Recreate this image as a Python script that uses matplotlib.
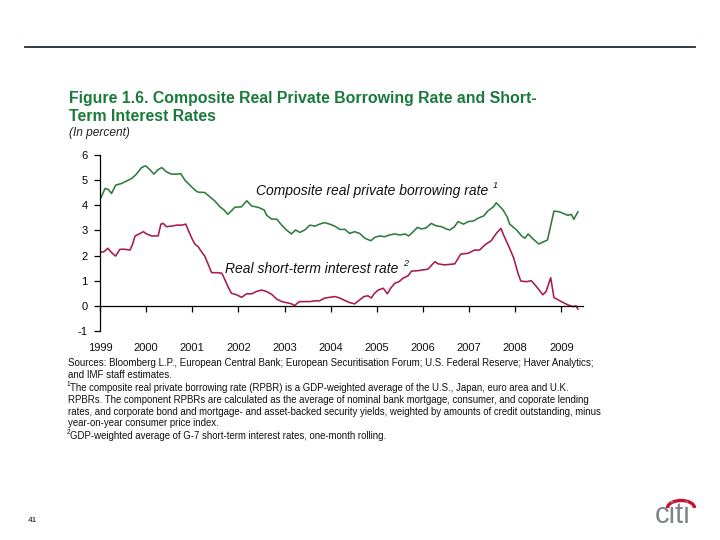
import matplotlib
matplotlib.use('Agg')
import matplotlib.pyplot as plt
from matplotlib.patches import Arc
from matplotlib.lines import Line2D

plt.rcParams['font.family'] = ['Liberation Sans', 'DejaVu Sans']

# ---------------- data ----------------
years_rpbr = [1999.02, 1999.11, 1999.18, 1999.25, 1999.34, 1999.47, 1999.58, 1999.69, 1999.79, 1999.90,
              1999.99, 2000.08, 2000.17, 2000.26, 2000.34, 2000.44, 2000.55, 2000.66, 2000.75, 2000.84,
              2000.95, 2001.06, 2001.13, 2001.27, 2001.38, 2001.49, 2001.60, 2001.69, 2001.77, 2001.85,
              2001.92, 2002.07, 2002.18, 2002.29, 2002.43, 2002.56, 2002.61, 2002.72, 2002.83, 2002.94,
              2003.04, 2003.15, 2003.24, 2003.33, 2003.44, 2003.55, 2003.66, 2003.76, 2003.87, 2003.98,
              2004.09, 2004.20, 2004.31, 2004.41, 2004.52, 2004.63, 2004.74, 2004.87, 2004.96, 2005.06,
              2005.17, 2005.28, 2005.39, 2005.50, 2005.61, 2005.69, 2005.79, 2005.88, 2005.97, 2006.07,
              2006.18, 2006.29, 2006.40, 2006.52, 2006.58, 2006.68, 2006.76, 2006.88, 2006.98, 2007.10,
              2007.19, 2007.32, 2007.41, 2007.53, 2007.59, 2007.74, 2007.83, 2007.88, 2008.03, 2008.14,
              2008.21, 2008.28, 2008.37, 2008.51, 2008.70, 2008.84, 2008.96, 2009.14, 2009.22, 2009.27,
              2009.36]
rpbr = [4.30, 4.67, 4.63, 4.47, 4.80, 4.87, 4.97, 5.07, 5.24, 5.50,
        5.57, 5.42, 5.24, 5.42, 5.50, 5.33, 5.24, 5.24, 5.26, 5.00,
        4.80, 4.60, 4.52, 4.51, 4.34, 4.17, 3.94, 3.81, 3.64, 3.78,
        3.92, 3.94, 4.18, 3.97, 3.92, 3.81, 3.61, 3.45, 3.45, 3.21,
        3.02, 2.86, 3.02, 2.92, 3.02, 3.21, 3.17, 3.25, 3.31, 3.25,
        3.17, 3.04, 3.04, 2.88, 2.95, 2.88, 2.69, 2.59, 2.73, 2.78,
        2.75, 2.82, 2.86, 2.82, 2.86, 2.78, 2.95, 3.12, 3.06, 3.10,
        3.28, 3.18, 3.15, 3.05, 3.02, 3.14, 3.35, 3.25, 3.35, 3.38,
        3.48, 3.58, 3.78, 3.94, 4.10, 3.81, 3.52, 3.25, 3.02, 2.78,
        2.69, 2.86, 2.69, 2.46, 2.62, 3.77, 3.74, 3.60, 3.64, 3.44,
        3.74]

years_short = [1999.02, 1999.09, 1999.17, 1999.25, 1999.34, 1999.43, 1999.54, 1999.65, 1999.70, 1999.76,
               1999.87, 1999.94, 2000.01, 2000.12, 2000.26, 2000.32, 2000.37, 2000.44, 2000.55, 2000.66,
               2000.77, 2000.86, 2000.91, 2000.99, 2001.06, 2001.13, 2001.20, 2001.27, 2001.35, 2001.42,
               2001.53, 2001.64, 2001.71, 2001.78, 2001.85, 2001.96, 2002.07, 2002.18, 2002.29, 2002.39,
               2002.50, 2002.61, 2002.72, 2002.83, 2002.94, 2003.04, 2003.15, 2003.22, 2003.28, 2003.33,
               2003.55, 2003.66, 2003.76, 2003.87, 2003.98, 2004.09, 2004.20, 2004.31, 2004.41, 2004.52,
               2004.63, 2004.72, 2004.81, 2004.88, 2004.94, 2005.03, 2005.14, 2005.23, 2005.30, 2005.39,
               2005.48, 2005.57, 2005.68, 2005.75, 2005.89, 2006.11, 2006.26, 2006.33, 2006.47, 2006.69,
               2006.82, 2006.98, 2007.12, 2007.23, 2007.34, 2007.48, 2007.59, 2007.69, 2007.77, 2007.88,
               2007.97, 2008.06, 2008.12, 2008.24, 2008.35, 2008.46, 2008.60, 2008.67, 2008.77, 2008.84,
               2009.00, 2009.14, 2009.25, 2009.32, 2009.36]
short_rate = [2.13, 2.16, 2.29, 2.12, 1.98, 2.25, 2.25, 2.22, 2.42, 2.78,
              2.88, 2.95, 2.86, 2.78, 2.78, 3.25, 3.28, 3.15, 3.17, 3.21,
              3.21, 3.25, 3.02, 2.69, 2.45, 2.35, 2.15, 1.98, 1.63, 1.32,
              1.32, 1.30, 1.03, 0.74, 0.50, 0.44, 0.34, 0.48, 0.48, 0.57,
              0.63, 0.57, 0.46, 0.27, 0.17, 0.13, 0.08, 0.01, 0.11, 0.17,
              0.17, 0.20, 0.20, 0.31, 0.34, 0.37, 0.31, 0.21, 0.13, 0.08,
              0.24, 0.37, 0.40, 0.31, 0.48, 0.63, 0.70, 0.48, 0.70, 0.90,
              0.96, 1.10, 1.20, 1.38, 1.40, 1.46, 1.76, 1.67, 1.63, 1.67,
              2.06, 2.09, 2.22, 2.22, 2.42, 2.59, 2.88, 3.08, 2.73, 2.29,
              1.89, 1.30, 0.99, 0.96, 1.00, 0.77, 0.44, 0.57, 1.12, 0.33,
              0.17, 0.04, -0.03, 0.00, -0.13]

year_ticks = list(range(1999, 2010))
y_ticks = [-1, 0, 1, 2, 3, 4, 5, 6]
y_tick_labels = ['-1', '0', '1', '2', '3', '4', '5', '6']

title_lines = ['Figure 1.6. Composite Real Private Borrowing Rate and Short-',
               'Term Interest Rates']
subtitle = '(In percent)'
label_rpbr = 'Composite real private borrowing rate'
label_short = 'Real short-term interest rate'
sources = ['Sources: Bloomberg L.P., European Central Bank; European Securitisation Forum; U.S. Federal Reserve; Haver Analytics;',
           'and IMF staff estimates.']
note1 = ['The composite real private borrowing rate (RPBR) is a GDP-weighted average of the U.S., Japan, euro area and U.K.',
         'RPBRs. The component RPBRs are calculated as the average of nominal bank mortgage, consumer, and coporate lending',
         'rates, and corporate bond and mortgage- and asset-backed security yields, weighted by amounts of credit outstanding, minus',
         'year-on-year consumer price index.']
note2 = ['GDP-weighted average of G-7 short-term interest rates, one-month rolling.']

# ---------------- styling ----------------
GREEN = '#2E7B3C'
RED = '#A81A4E'
TITLE_GREEN = '#1A7A3A'
W, H = 720, 540

fig = plt.figure(figsize=(7.2, 5.4), dpi=100)
fig.patch.set_facecolor('white')


def fx(x):
    return x / W


def fy(y):
    return 1 - y / H


# header rule
fig.add_artist(Line2D([fx(25), fx(695)], [fy(47), fy(47)], color='#1F2A38', lw=1.3,
                      transform=fig.transFigure))

# title
fig.text(fx(69), fy(98), title_lines[0], fontsize=11.4, fontweight='bold', color=TITLE_GREEN,
         ha='left', va='center')
fig.text(fx(69), fy(116.5), title_lines[1], fontsize=11.4, fontweight='bold', color=TITLE_GREEN,
         ha='left', va='center')
fig.text(fx(69), fy(133), subtitle, fontsize=8.6, style='italic', color='#222222',
         ha='left', va='center')

# axes
ax = fig.add_axes([fx(100), fy(331), fx(583) - fx(100), fy(155) - fy(331)])
ax.plot(years_rpbr, rpbr, color=GREEN, lw=1.15, solid_joinstyle='round')
ax.plot(years_short, short_rate, color=RED, lw=1.15, solid_joinstyle='round')
ax.set_xlim(1999, 2009.47)
ax.set_ylim(-1, 6)
ax.spines['top'].set_visible(False)
ax.spines['right'].set_visible(False)
ax.spines['bottom'].set_position(('data', 0))
ax.spines['left'].set_linewidth(0.9)
ax.spines['bottom'].set_linewidth(0.9)
ax.set_xticks(year_ticks)
ax.tick_params(axis='x', direction='out', length=4, width=0.9, labelbottom=False)
ax.set_yticks(y_ticks)
ax.set_yticklabels(y_tick_labels)
ax.tick_params(axis='y', direction='out', length=4, width=0.9, pad=5, labelsize=8)
for yr in year_ticks:
    ax.text(yr, -0.097, str(yr), transform=ax.get_xaxis_transform(), ha='center', va='center',
            fontsize=8, color='#111111')

# series labels
fig.text(fx(256), fy(191.5), label_rpbr, fontsize=10, style='italic', color='#111111',
         ha='left', va='center')
fig.text(fx(493), fy(186), '1', fontsize=6.5, style='italic', color='#111111', ha='left', va='center')
fig.text(fx(225), fy(269), label_short, fontsize=10, style='italic', color='#111111',
         ha='left', va='center')
fig.text(fx(403), fy(263), '2', fontsize=6.5, style='italic', color='#111111', ha='left', va='center')

# footnotes
FS = 6.9
fig.text(fx(68), fy(363.5), sources[0], fontsize=7.05, ha='left', va='center', color='#111111')
fig.text(fx(68), fy(375.5), sources[1], fontsize=7.05, ha='left', va='center', color='#111111')
fig.text(fx(67), fy(385), '1', fontsize=4.8, ha='left', va='center', color='#111111')
ys1 = [388, 400, 412, 423.5]
xs1 = [70.5, 68, 68, 68]
for i, line in enumerate(note1):
    fig.text(fx(xs1[i]), fy(ys1[i]), line, fontsize=FS, ha='left', va='center', color='#111111')
fig.text(fx(67), fy(433), '2', fontsize=4.8, ha='left', va='center', color='#111111')
fig.text(fx(70.5), fy(436), note2[0], fontsize=FS, ha='left', va='center', color='#111111')

# page number and logo
fig.text(fx(33), fy(521), '41', fontsize=6, ha='center', va='center', color='#111111')
fig.text(fx(673), fy(515), 'citi', fontsize=21, ha='center', va='center', color='#7F8388')
fig.add_artist(Arc((681, H - 508), 27, 15, theta1=0, theta2=180, color='#C8102E', lw=2.4,
                   transform=None))

fig.savefig('out.png', dpi=100, facecolor='white')
